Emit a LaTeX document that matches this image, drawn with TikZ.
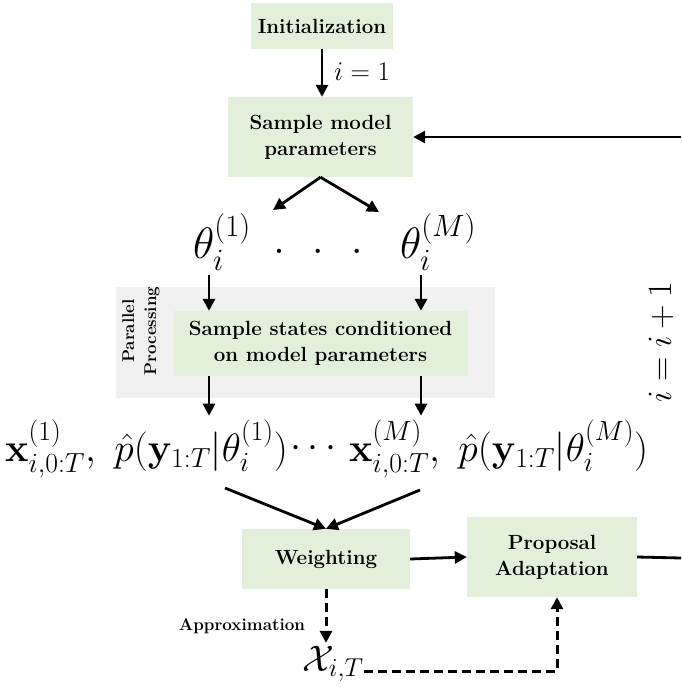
\RequirePackage{fix-cm}
\documentclass[tikz,border=0pt]{standalone}
\usepackage{amsmath,amssymb}
\usetikzlibrary{arrows.meta}
\definecolor{boxgreen}{HTML}{E2EFDA}
\definecolor{procgray}{HTML}{F0F0F0}
\begin{document}
\begin{tikzpicture}[x=1pt,y=-1pt,
  box/.style={draw=none, fill=boxgreen, align=center, font=\fontsize{20.5}{26}\selectfont\bfseries, inner sep=0pt},
  arr/.style={line width=2.8pt, -{Triangle[length=12pt,width=12pt]}},
  dasharr/.style={line width=3pt, dash pattern=on 9pt off 5pt, -{Triangle[length=12pt,width=12pt]}},
  plainline/.style={line width=2.8pt},
  mathbig/.style={font=\fontsize{44}{48}\selectfont, inner sep=0pt},
  mathrow/.style={font=\fontsize{39.5}{44}\selectfont, inner sep=0pt},
  lbl/.style={font=\fontsize{17}{22}\selectfont\bfseries, align=center, inner sep=0pt}]
\useasboundingbox (0,0) rectangle (681,694);

% boxes
\node[box, minimum width=142pt, minimum height=46pt] (init) at (322,26) {Initialization};
\node[box, minimum width=185pt, minimum height=80pt] (sample) at (320.5,137) {Sample model\\parameters};
\node[fill=procgray, minimum width=379pt, minimum height=111pt, inner sep=0pt] (proc) at (305.5,342.5) {};
\node[box, minimum width=295pt, minimum height=65pt] (states) at (320.5,343.5) {Sample states conditioned\\on model parameters};
\node[lbl, rotate=90] (par) at (141,331) {Parallel\\Processing};
\node[box, minimum width=168pt, minimum height=60pt] (weigh) at (326,559) {Weighting};
\node[box, minimum width=170pt, minimum height=80pt] (prop) at (552,557) {Proposal\\Adaptation};

% math labels
\node[font=\fontsize{27}{30}\selectfont, anchor=west, inner sep=0pt] (i1) at (334,72) {$i=1$};
\node[mathbig] (thA) at (222,242) {$\theta_i^{(1)}$};
\node[mathbig] (dots) at (318,251) {$.\hspace{27pt}.\hspace{27pt}.$};
\node[mathbig] (thM) at (438,242) {$\theta_i^{(M)}$};
\node[mathrow, anchor=west] (rowA) at (5,449) {$\mathbf{x}^{(1)}_{i,0:T},\ \hat{p}(\mathbf{y}_{1:T}|\theta^{(1)}_i)$};
\node[mathrow, anchor=west] (rowD) at ([xshift=2pt]rowA.east) {$\cdots$};
\node[mathrow, anchor=west] (rowB) at ([xshift=6pt]rowD.east) {$\mathbf{x}^{(M)}_{i,0:T},\ \hat{p}(\mathbf{y}_{1:T}|\theta^{(M)}_i)$};
\node[font=\fontsize{34}{38}\selectfont, rotate=90, inner sep=0pt] (iloop) at (661,342) {$i=i+1$};
\node[font=\fontsize{37}{40}\selectfont, inner sep=0pt] (chi) at (333,664) {$\mathcal{X}_{i,T}$};
\node[lbl] (approx) at (242,626) {Approximation};

% coordinates
\coordinate (ca) at (209,0);
\coordinate (cb) at (421,0);
\coordinate (tA) at (273,210);
\coordinate (tM) at (379,212);
\coordinate (fA) at (225,488);
\coordinate (fM) at (420,490);
\coordinate (loopT) at (681,137);
\coordinate (loopB) at (681,558);

% connectors
\draw[arr] (init.south) -- (init.south |- sample.north);
\draw[arr] (sample.south) -- (tA);
\draw[arr] (sample.south) -- (tM);
\draw[arr] ([yshift=-4pt]ca |- thA.south) -- (ca |- states.north);
\draw[arr] ([yshift=-4pt]cb |- thM.south) -- (cb |- states.north);
\draw[arr] (ca |- states.south) -- ([yshift=4pt]ca |- rowA.north);
\draw[arr] (cb |- states.south) -- ([yshift=4pt]cb |- rowA.north);
\draw[arr] (fA) -- (weigh.north);
\draw[arr] (fM) -- (weigh.north);
\draw[arr] (weigh.east) -- (prop.west);
\draw[plainline] (prop.east) -- (loopB);
\draw[arr] (loopT) -- (sample.east);
\draw[dasharr] (weigh.south) -- ([yshift=3pt]weigh.south |- chi.north);
\draw[dasharr] ([yshift=-7pt]chi.east) -- ([yshift=-7pt,xshift=5pt]chi.east -| prop.south) -- ([xshift=5pt]prop.south);
\end{tikzpicture}
\end{document}
